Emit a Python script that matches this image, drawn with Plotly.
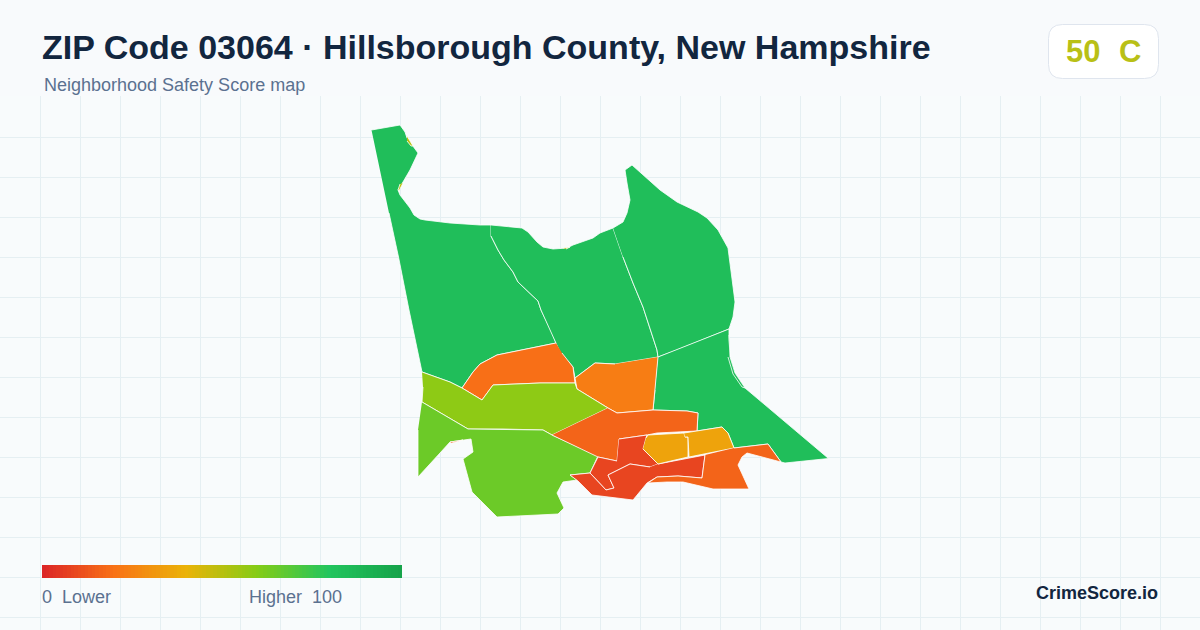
import plotly.graph_objects as go
from plotly.colors import sample_colorscale

# outlines, in image units
tract_nw = [(371.5,130),(400,125),(405,132),(407,138),(418,153),(410,170),(403,182),(398,190),(400,195),(410,208),(414,215),(420,219),(425,220),(450,223),(480,225),(491,225),(491,236),(498,250),(504,260),(513,272),(518,282),(530,293),(538,301),(541,310),(545,318),(552,333),(556,343),(497,355),(480,364),(473,372),(462,388),(450,382),(422,372),(413,330),(409,310),(398.5,257),(389,213)]
tract_n = [(491,225),(522,228),(528,232),(537,242),(543,247),(553,249),(567,248),(573,245),(593,238),(600,233),(613,228),(623,257),(633,283),(643,307),(657,350),(658,357),(615,364),(595,363),(575,378),(573,367),(560,352),(556,343),(552,333),(545,318),(541,310),(538,301),(530,293),(518,282),(513,272),(504,260),(498,250),(491,236)]
tract_ne = [(613,228),(623,222),(627,213),(630,200),(627,183),(625,170),(632,165),(643,175),(660,190),(677,202),(698,212),(707,218),(718,230),(728,248),(732,277),(735,302),(733,317),(729,329),(677,350),(658,357),(657,350),(643,307),(633,283),(623,257)]
tract_e = [(658,357),(729,329),(729,340),(730,357),(735,373),(745,388),(828.5,458.5),(785,463),(781,462),(768,444),(734,448),(728,433),(722,427),(710,429),(697,431),(698,413),(687,411),(653,410),(655,390)]
tract_edge = [(729,335),(730,357),(735,373),(745,388),(742,387),(733,374),(728,357)]
tract_mid_w = [(556,343),(497,355),(480,364),(473,372),(462,388),(482,400),(493,385),(540,383),(575,383),(573,367),(562,353)]
tract_mid_e = [(658,357),(655,390),(653,410),(617,413),(608,408),(577,389),(575,378),(595,363),(615,364)]
tract_band = [(422,372),(450,382),(462,388),(482,400),(493,385),(540,383),(575,383),(577,389),(608,408),(552,435),(543,430),(503,429),(468,429),(422,402),(423,387)]
tract_sw = [(422,402),(468,429),(543,430),(552,435),(598,456),(590,473),(570,475),(577,480),(563,482),(557,493),(564,508),(558,514),(497,517),(472,492),(463,459),(473,452),(471,439),(450,442),(440,453),(418,477),(418,430)]
tract_center = [(608,408),(617,413),(653,410),(687,411),(698,413),(697,431),(657,433),(647,435),(619,439),(617,461),(598,457),(552,435)]
tract_red_n = [(619,439),(647,435),(646,438),(643,449),(658,464),(650,467),(630,464),(608,475),(614,488),(606,490),(590,473),(598,457),(617,461)]
tract_red_s = [(658,464),(705,455),(702,478),(678,476),(657,477),(647,483),(633,500),(592,495),(578,481),(570,475),(590,473),(606,490),(614,488),(608,475),(630,464),(650,467)]
tract_amber_w = [(646,438),(648,435),(684,433),(685,437),(688,437),(688,457),(658,464),(643,449)]
tract_amber_e = [(684,433),(710,429),(722,427),(728,433),(734,448),(689,457),(688,437),(685,437)]
tract_se = [(734,448),(768,444),(781,462),(747,453),(742,457),(738,465),(749,489),(713,489),(683,482),(667,482),(648,483),(657,477),(678,476),(702,478),(705,455)]
sliver_a = [(407,136),(413,146),(411,146),(407,141)]
sliver_b = [(403,183),(399,191),(398,190),(400,184)]
sliver_c = [(563,248),(570,247),(566,249)]
sliver_d = [(450,442),(463,440),(452,443)]

tract_names = ["tract_nw","tract_n","tract_ne","tract_e","tract_edge","tract_mid_w","tract_mid_e","tract_band","tract_sw","tract_center","tract_red_n","tract_red_s","tract_amber_w","tract_amber_e","tract_se","sliver_a","sliver_b","sliver_c","sliver_d"]
tract_shapes = [tract_nw,tract_n,tract_ne,tract_e,tract_edge,tract_mid_w,tract_mid_e,tract_band,tract_sw,tract_center,tract_red_n,tract_red_s,tract_amber_w,tract_amber_e,tract_se,sliver_a,sliver_b,sliver_c,sliver_d]
tract_scores = [84,84,84,84,84,19,23,58,65,16,8,8,35,35,16,50,50,50,16]

scale_stops = [0, 0.2, 0.4, 0.6, 0.8, 1]
scale_colors = ["#dc2626","#f97316","#eab308","#84cc16","#22c55e","#16a34a"]
legend_scores = list(range(0, 101))

W, H = 1200, 630
MAP_TOP = 96
scale = [[s, c] for s, c in zip(scale_stops, scale_colors)]


def px_x(x):
    return x / W


def px_y(y):
    return 1 - y / H


def add_text(fig, x, y, text, size, color, bold=False, anchor="left"):
    fig.add_annotation(xref="paper", yref="paper", x=px_x(x), y=px_y(y), text=text,
                       showarrow=False, xanchor=anchor, yanchor="middle",
                       font=dict(family="Liberation Sans", size=size, color=color, weight=700 if bold else 400))


def round_rect(x0, y0, x1, y1, r):
    # rounded box as a paper-coordinates path
    rx, ry = r / W, r / H
    a, b, c, d = px_x(x0), px_x(x1), px_y(y1), px_y(y0)
    return (f"M {a+rx} {c} L {b-rx} {c} Q {b} {c} {b} {c+ry} L {b} {d-ry} Q {b} {d} {b-rx} {d} "
            f"L {a+rx} {d} Q {a} {d} {a} {d-ry} L {a} {c+ry} Q {a} {c} {a+rx} {c} Z")


fig = go.Figure()

for name, shape, score in zip(tract_names, tract_shapes, tract_scores):
    fig.add_trace(go.Scatter(
        x=[p[0] for p in shape], y=[p[1] for p in shape],
        mode="lines", fill="toself", name=name,
        fillcolor=sample_colorscale(scale_colors, score / 100)[0],
        line=dict(color="#ffffff", width=0.8),
        text=f"Score {score}", hoverinfo="text", showlegend=False,
    ))

# legend bar
fig.add_trace(go.Heatmap(
    z=[legend_scores], x0=42 + 360 / 202, dx=360 / 101, y0=571.5, dy=13,
    zmin=0, zmax=100, colorscale=scale, showscale=False, hoverinfo="skip",
))

fig.add_shape(type="path", path=round_rect(1048.5, 24.5, 1158.5, 78.5, 14), xref="paper", yref="paper",
              fillcolor="#ffffff", line=dict(color="#dfe5ee", width=1))

add_text(fig, 40, 47, "ZIP Code 03064 · Hillsborough County, New Hampshire", 34, "#12263f", bold=True)
add_text(fig, 42, 85, "Neighborhood Safety Score map", 18, "#5b7190")
add_text(fig, 1064, 51, "50", 31, "#b9c016", bold=True)
add_text(fig, 1117, 51, "C", 31, "#b9c016", bold=True)
add_text(fig, 40, 597, "0  Lower", 18, "#5b7190")
add_text(fig, 247, 597, "Higher  100", 18, "#5b7190")
add_text(fig, 1160, 593, "CrimeScore.io", 18, "#12263f", bold=True, anchor="right")

fig.update_xaxes(range=[0, W], tick0=0, dtick=40, showgrid=True, gridcolor="#e5eff2", gridwidth=1,
                 zeroline=False, showticklabels=False, ticks="", fixedrange=True)
fig.update_yaxes(range=[H, MAP_TOP], domain=[0, 1 - MAP_TOP / H], tick0=97, dtick=40, showgrid=True,
                 gridcolor="#e5eff2", gridwidth=1, zeroline=False, showticklabels=False, ticks="", fixedrange=True)
fig.update_layout(width=W, height=H, margin=dict(l=0, r=0, t=0, b=0),
                  paper_bgcolor="#f8fafc", plot_bgcolor="#f8fbfc", showlegend=False)

# browser default body margin would push the chart off by 8px
fig.write_html("out.html", config={"displayModeBar": False}, post_script="document.body.style.margin='0';")
